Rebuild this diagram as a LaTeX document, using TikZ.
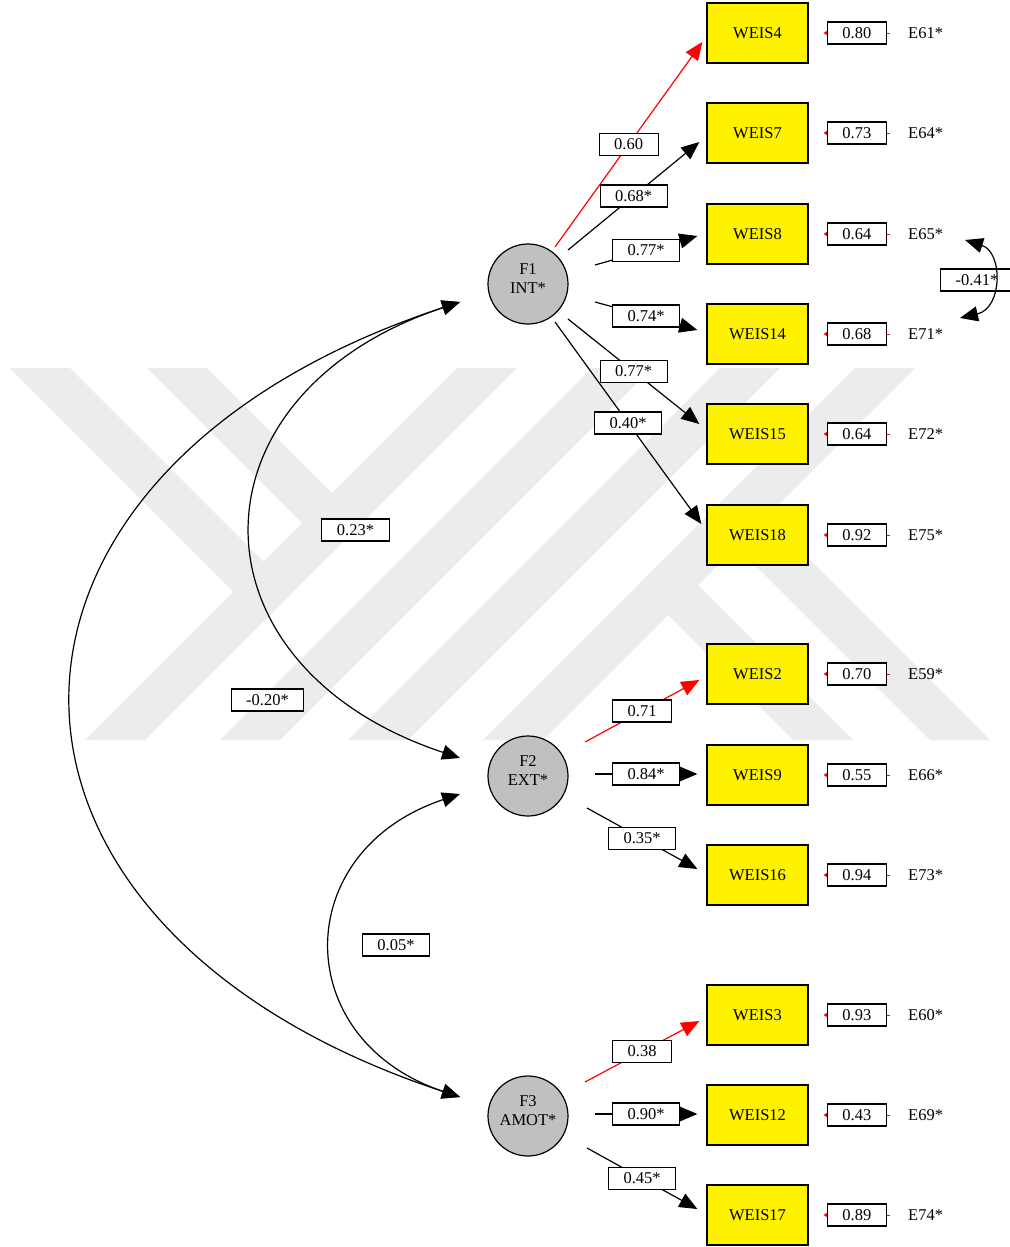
\documentclass[tikz,border=0pt]{standalone}
\usepackage{fontspec}
\setmainfont{Liberation Serif}
\usetikzlibrary{arrows.meta,calc}
\definecolor{wmgray}{RGB}{236,236,236}
\definecolor{facgray}{RGB}{192,192,192}
\begin{document}
\begin{tikzpicture}[x=1pt,y=-1pt,
  every node/.style={font=\fontsize{16.5}{19}\selectfont},
  ind/.style={draw=black, line width=1.3pt, fill=yellow, minimum width=101pt, minimum height=60pt, inner sep=0pt},
  factor/.style={circle, draw=black, line width=1.2pt, fill=facgray, minimum size=80pt, inner sep=0pt},
  ftext/.style={align=center, inner sep=0pt, text=black},
  val/.style={draw=black, text=black, line width=1.1pt, fill=white, minimum height=22pt, inner xsep=15pt, inner ysep=0pt},
  load/.style={line width=1.2pt, -{Triangle[length=18pt,width=15pt]}},
  refl/.style={load, red},
  cov/.style={line width=1.2pt, {Triangle[length=18pt,width=15pt]}-{Triangle[length=18pt,width=15pt]}},
  err/.style={red, line width=0.8pt, -{Triangle[length=4pt,width=5pt]}},
  elab/.style={inner sep=0pt, anchor=west},
  wm/.style={fill=wmgray, draw=none}
]
\fill[white] (0,0) rectangle (1009,1247);
\path[use as bounding box] (0,0) rectangle (1009,1247);

% watermark
\begin{scope}
\clip (10,368) rectangle (992,740);
\fill[wm] (85,740) -- (145,740) -- (517,368) -- (457,368) -- cycle;
\fill[wm] (220,740) -- (280,740) -- (652,368) -- (592,368) -- cycle;
\fill[wm] (348,740) -- (408,740) -- (780,368) -- (720,368) -- cycle;
\fill[wm] (483,740) -- (543,740) -- (915,368) -- (855,368) -- cycle;
\fill[wm] (10,368) -- (70,368) -- (293.5,591.5) -- (263.5,621.5) -- cycle;
\fill[wm] (147,368) -- (207,368) -- (362,523) -- (332,553) -- cycle;
\fill[wm] (990,740) -- (930,740) -- (706.5,516.5) -- (736.5,486.5) -- cycle;
\fill[wm] (853,740) -- (793,740) -- (638,585) -- (668,555) -- cycle;
\end{scope}

% indicators
\node[ind] (w4)  at (757.5,33)   {WEIS4};
\node[ind] (w7)  at (757.5,133)  {WEIS7};
\node[ind] (w8)  at (757.5,234)  {WEIS8};
\node[ind] (w14) at (757.5,334)  {WEIS14};
\node[ind] (w15) at (757.5,434)  {WEIS15};
\node[ind] (w18) at (757.5,535)  {WEIS18};
\node[ind] (w2)  at (757.5,674)  {WEIS2};
\node[ind] (w9)  at (757.5,775)  {WEIS9};
\node[ind] (w16) at (757.5,875)  {WEIS16};
\node[ind] (w3)  at (757.5,1015) {WEIS3};
\node[ind] (w12) at (757.5,1115) {WEIS12};
\node[ind] (w17) at (757.5,1215) {WEIS17};

% error labels
\node[elab] (e61) at (908,33)   {E61*};
\node[elab] (e64) at (908,133)  {E64*};
\node[elab] (e65) at (908,234)  {E65*};
\node[elab] (e71) at (908,334)  {E71*};
\node[elab] (e72) at (908,434)  {E72*};
\node[elab] (e75) at (908,535)  {E75*};
\node[elab] (e59) at (908,674)  {E59*};
\node[elab] (e66) at (908,775)  {E66*};
\node[elab] (e73) at (908,875)  {E73*};
\node[elab] (e60) at (908,1015) {E60*};
\node[elab] (e69) at (908,1115) {E69*};
\node[elab] (e74) at (908,1215) {E74*};

% error paths
\draw[err] ([xshift=-18pt]e61.west) -- ([xshift=15pt]w4.east)  node[val,midway]{0.80};
\draw[err] ([xshift=-18pt]e64.west) -- ([xshift=15pt]w7.east)  node[val,midway]{0.73};
\draw[err] ([xshift=-18pt]e65.west) -- ([xshift=15pt]w8.east)  node[val,midway]{0.64};
\draw[err] ([xshift=-18pt]e71.west) -- ([xshift=15pt]w14.east) node[val,midway]{0.68};
\draw[err] ([xshift=-18pt]e72.west) -- ([xshift=15pt]w15.east) node[val,midway]{0.64};
\draw[err] ([xshift=-18pt]e75.west) -- ([xshift=15pt]w18.east) node[val,midway]{0.92};
\draw[err] ([xshift=-18pt]e59.west) -- ([xshift=15pt]w2.east)  node[val,midway]{0.70};
\draw[err] ([xshift=-18pt]e66.west) -- ([xshift=15pt]w9.east)  node[val,midway]{0.55};
\draw[err] ([xshift=-18pt]e73.west) -- ([xshift=15pt]w16.east) node[val,midway]{0.94};
\draw[err] ([xshift=-18pt]e60.west) -- ([xshift=15pt]w3.east)  node[val,midway]{0.93};
\draw[err] ([xshift=-18pt]e69.west) -- ([xshift=15pt]w12.east) node[val,midway]{0.43};
\draw[err] ([xshift=-18pt]e74.west) -- ([xshift=15pt]w17.east) node[val,midway]{0.89};

% factors
\node[factor, label={[ftext,yshift=5pt]center:F1\\INT*}]  (f1) at (528,284)  {};
\node[factor, label={[ftext,yshift=5pt]center:F2\\EXT*}]  (f2) at (528,776)  {};
\node[factor, label={[ftext,yshift=5pt]center:F3\\AMOT*}] (f3) at (528,1116) {};

% loadings F1
\draw[refl] ($(f1)+(27,-37)$) -- ($(w4.west)+(-4,9)$)   node[val,midway]{0.60};
\draw[load] ($(f1)+(40,-34)$) -- ($(w7.west)+(-7,9)$)   node[val,midway]{0.68*};
\draw[load] ($(f1)+(67,-19)$) -- ($(w8.west)+(-9,2)$)   node[val,midway]{0.77*};
\draw[load] ($(f1)+(67,18)$)  -- ($(w14.west)+(-9,-4)$) node[val,midway]{0.74*};
\draw[load] ($(f1)+(40,35)$)  -- ($(w15.west)+(-7,-10)$) node[val,midway]{0.77*};
\draw[load] ($(f1)+(27,38)$)  -- ($(w18.west)+(-5,-11)$) node[val,midway]{0.40*};

% loadings F2
\draw[refl] ($(f2)+(57,-34)$) -- ($(w2.west)+(-7,6)$)   node[val,midway]{0.71};
\draw[load] ($(f2)+(67,-2)$)  -- ($(w9.west)+(-9,-1)$)  node[val,midway]{0.84*};
\draw[load] ($(f2)+(59,32)$)  -- ($(w16.west)+(-9,-6)$) node[val,midway]{0.35*};

% loadings F3
\draw[refl] ($(f3)+(57,-34)$) -- ($(w3.west)+(-7,6)$)   node[val,midway]{0.38};
\draw[load] ($(f3)+(67,-2)$)  -- ($(w12.west)+(-9,-1)$) node[val,midway]{0.90*};
\draw[load] ($(f3)+(59,32)$)  -- ($(w17.west)+(-9,-6)$) node[val,midway]{0.45*};

% factor covariances
\draw[cov] ($(f1)+(-68,18)$) .. controls (183,394) and (183,666) .. ($(f2)+(-68,-18)$);
\draw[cov] ($(f1)+(-68,18)$) .. controls (-56,472) and (-56,927) .. ($(f3)+(-68,-19)$);
\draw[cov] ($(f2)+(-68,18)$) .. controls (289,851) and (289,1040) .. ($(f3)+(-68,-19)$);
\node[val] (c12) at (355.5,530) {0.23*};
\node[val] (c13) at (267.5,700) {-0.20*};
\node[val] (c23) at (396,945) {0.05*};

% error covariance
\node[val] (c6571) at (977,280) {-0.41*};
\draw[cov] ($(e65.west)+(57,6)$) .. controls (1003,252) and (1003,308) .. ($(e71.west)+(52,-16)$);
\end{tikzpicture}
\end{document}
